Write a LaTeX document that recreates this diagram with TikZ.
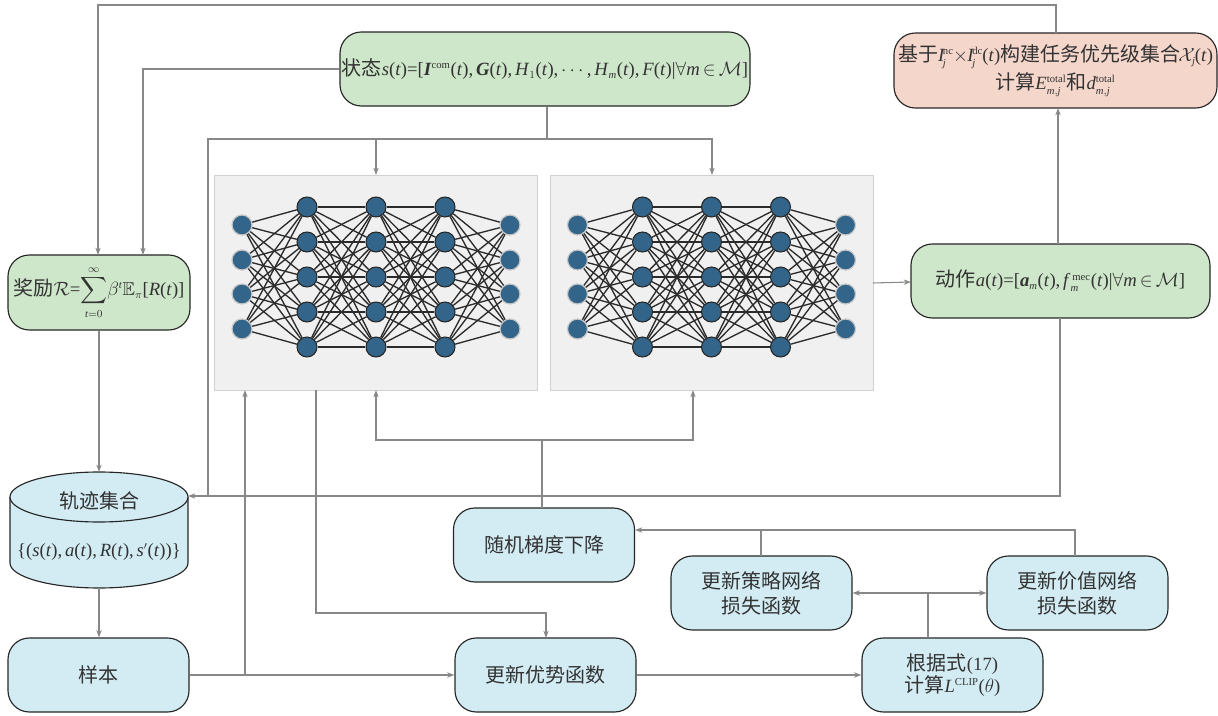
\documentclass[tikz,border=0pt]{standalone}
\usepackage{amsmath,amssymb}
\usepackage{fontspec}
\setmainfont[WordSpace=0.6]{Liberation Serif}
\newfontfamily\cjk{Noto Sans CJK SC}
\usetikzlibrary{arrows.meta,calc}
\DeclareMathSizes{14}{14}{8}{6}
\DeclareMathSizes{13.5}{13.5}{8}{6}
\newcommand{\cn}[1]{{\cjk\fontsize{15}{19}\selectfont #1}}
\newcommand{\iv}[1]{\textit{#1}}
\newcommand{\bv}[1]{\textbf{\textit{#1}}}
\newcommand{\pxu}{0.75pt}
\definecolor{gfill}{HTML}{CEE6C9}
\definecolor{pfill}{HTML}{F5D6CB}
\definecolor{bfill}{HTML}{D3ECF4}
\definecolor{conn}{HTML}{888888}
\definecolor{txt}{HTML}{333333}
\definecolor{neuron}{HTML}{33658A}
\definecolor{edgec}{HTML}{2B2B2B}
\tikzset{
  boxs/.style={draw=black!85,line width=0.85pt,rounded corners=16pt,inner sep=0pt,align=center,
     text=txt,font=\fontsize{14}{19}\selectfont},
  green box/.style={boxs,fill=gfill},
  pink box/.style={boxs,fill=pfill},
  blue box/.style={boxs,fill=bfill,minimum width=181*\pxu,minimum height=74*\pxu},
  panel/.style={draw=black!18,fill=black!6,line width=0.7pt,minimum width=323*\pxu,minimum height=215*\pxu,inner sep=0pt},
  hid/.style={circle,fill=neuron,draw=black!85,line width=0.8pt,minimum size=20*\pxu,inner sep=0pt},
  inp/.style={circle,fill=neuron,draw=black!22,line width=0.9pt,minimum size=20*\pxu,inner sep=0pt},
  link/.style={draw=edgec,line width=1pt},
  wire/.style={draw=conn,line width=0.8pt},
  arr/.style={wire,-{Stealth[length=5.5pt,width=4pt]}},
  darr/.style={wire,{Stealth[length=5.5pt,width=4pt]}-{Stealth[length=5.5pt,width=4pt]}}
}
\begin{document}
\begin{tikzpicture}[x=\pxu,y=-\pxu]
\useasboundingbox (0,0) rectangle (1218,716);
% boxes
\node[green box,minimum width=410*\pxu,minimum height=74*\pxu] (state) at (545,69)
  {\cn{状态}\iv{s}(\iv{t})=[\bv{I}$^{\text{com}}$(\iv{t}), \bv{G}(\iv{t}), \iv{H}$_{1}$(\iv{t}), $\cdots$, \iv{H}$_{\mathit{m}}$(\iv{t}), \iv{F}(\iv{t})|$\forall$\iv{m}\,$\in$\,$\mathcal{M}$]};
\node[pink box,minimum width=323*\pxu,minimum height=75*\pxu] (prio) at (1055.5,70.5)
  {\raisebox{-1.5pt}{\cn{基于}\iv{I}\kern-1.5pt$^{\text{nc}}_{\mathit{j}}$\kern-0.5pt$\times$\kern-0.5pt\iv{I}\kern-1.5pt$^{\text{dc}}_{\mathit{j}}$\kern-0.5pt(\iv{t})\cn{构建任务优先级集合}\kern-1.5pt$\mathcal{X}_{\mathit{j}}$\kern-0.5pt(\iv{t})}\\[2pt]
   \raisebox{-1.5pt}{\cn{计算}\iv{E}$^{\text{total}}_{\mathit{m,j}}$\cn{和}\iv{d}$^{\text{total}}_{\mathit{m,j}}$}};
\node[green box,minimum width=182*\pxu,minimum height=75*\pxu] (reward) at (99,292.5)
  {\cn{奖励}$\mathcal{R}$=$\displaystyle\sum_{\mathit{t}=0}^{\infty}$$\beta^{\mathit{t}}$$\mathbb{E}_{\pi}$[\iv{R}(\iv{t})]};
\node[green box,minimum width=299*\pxu,minimum height=74*\pxu] (action) at (1060.5,281)
  {\cn{动作}\iv{a}(\iv{t})=[\bv{a}$_{\mathit{m}}$(\iv{t}), \iv{f}$^{\,\text{mec}}_{\mathit{m}}$(\iv{t})|$\forall$\iv{m}\,$\in$\,$\mathcal{M}$]};
\node[blue box] (sample) at (98.5,675) {\cn{样本}};
\node[blue box] (sgd) at (544,545) {\cn{随机梯度下降}};
\node[blue box] (adv) at (545.5,675) {\cn{更新优势函数}};
\node[blue box] (policy) at (761.5,593) {\cn{更新策略网络}\\\cn{损失函数}};
\node[blue box] (value) at (1077.5,593) {\cn{更新价值网络}\\\cn{损失函数}};
\node[blue box] (clip) at (952.5,675) {\cn{根据式}(17)\\[-2pt]\cn{计算}\iv{L}$^{\text{CLIP}}$($\theta$)};
% cylinder
\draw[fill=bfill,draw=black!85,line width=0.85pt] (10,497) -- (10,563) arc[start angle=180,end angle=0,x radius=89,y radius=25] -- (188,497);
\draw[fill=bfill,draw=black!85,line width=0.85pt] (99,497) ellipse[x radius=89,y radius=25];
\coordinate (cyltop) at (99,472);
\coordinate (cylbot) at (99,588);
\coordinate (cylright) at (188,496);
\node[text=txt,inner sep=0pt] (cyl1) at (99,501) {\cn{轨迹集合}};
\node[text=txt,font=\fontsize{14}{19}\selectfont,inner sep=0pt] (cyl2) at (99,552) {\{(\iv{s}(\iv{t}), \iv{a}(\iv{t}), \iv{R}(\iv{t}), \iv{s}$'$(\iv{t}))\}};
% networks
\node[panel] (net1) at (376,282.5) {};
\node[panel] (net2) at (711.5,282.5) {};
\foreach \o/\n in {0/A,335.5/B}{
  \foreach \k/\yy in {1/225,2/260,3/294,4/329}{
    \node[inp] (\n i\k) at ({242+\o},\yy) {};
    \node[inp] (\n o\k) at ({510+\o},\yy) {};
  }
  \foreach \l/\xx in {1/307,2/376,3/445}{
    \foreach \k/\yy in {1/207,2/242,3/277,4/312,5/347}{
      \node[hid] (\n h\l\k) at ({\xx+\o},\yy) {};
    }
  }
  \foreach \a in {1,...,4}{\foreach \b in {1,...,5}{
    \draw[link] (\n i\a) -- (\n h1\b);
    \draw[link] (\n h3\b) -- (\n o\a);
  }}
  \foreach \a in {1,...,5}{\foreach \b in {1,...,5}{
    \draw[link] (\n h1\a) -- (\n h2\b);
    \draw[link] (\n h2\a) -- (\n h3\b);
  }}
}
% named free ends
\coordinate (r1) at (98,255);
\coordinate (r2) at (143,255);
\coordinate (topbus) at (98,5);
\coordinate (stdrop) at (547,139);
\coordinate (busl) at (208,139);
\coordinate (n1a) at (376,175);
\coordinate (n2a) at (712,175);
\coordinate (prT) at (1056,33);
\coordinate (prB) at (1058,108);
\coordinate (acT) at (1058,244);
\coordinate (acB) at (1060,318);
\coordinate (acL) at (911,282);
\coordinate (n2R) at (873,283);
\coordinate (mer) at (1060,496);
\coordinate (samU) at (245,390);
\coordinate (samJ) at (245,675);
\coordinate (n1B) at (316,390);
\coordinate (advT) at (546,638);
\coordinate (advJ) at (316,613);
\coordinate (gdT) at (542,508);
\coordinate (gdJ) at (542,440);
\coordinate (g1) at (376,390);
\coordinate (g2) at (693,390);
\coordinate (clT) at (928,638);
\coordinate (clJ) at (928,593);
\coordinate (poT) at (761,556);
\coordinate (vaT) at (1075,556);
\coordinate (sgdR) at (635,530);
% connectors
\draw[arr] (prT) |- (topbus) -- (r1);
\draw[arr] (state.west) -| (r2);
\draw[wire] (state.south -| stdrop) -- (stdrop);
\draw[arr] (stdrop) -| (n2a);
\draw[arr] (n1a |- stdrop) -- (n1a);
\draw[wire] (stdrop) -- (busl) -- (busl |- cylright);
\draw[arr] (acB) -- (mer) -- (cylright);
\draw[arr] (acT) -- (prB);
\draw[arr] (n2R) -- (acL);
\draw[arr] (reward.south) -- (cyltop);
\draw[arr] (cylbot) -- (cylbot |- sample.north);
\draw[arr] (sample.east) -- (adv.west);
\draw[arr] (samJ) -- (samU);
\draw[arr] (n1B) -- (advJ) -| (advT);
\draw[arr] (adv.east) -- (clip.west);
\draw[wire] (clT) -- (clJ);
\draw[darr] (policy.east) -- (value.west);
\draw[wire] (poT) -- (poT |- sgdR);
\draw[arr] (vaT) |- (sgdR);
\draw[wire] (gdT) -- (gdJ);
\draw[arr] (gdJ) -| (g1);
\draw[arr] (gdJ) -| (g2);
\end{tikzpicture}
\end{document}
